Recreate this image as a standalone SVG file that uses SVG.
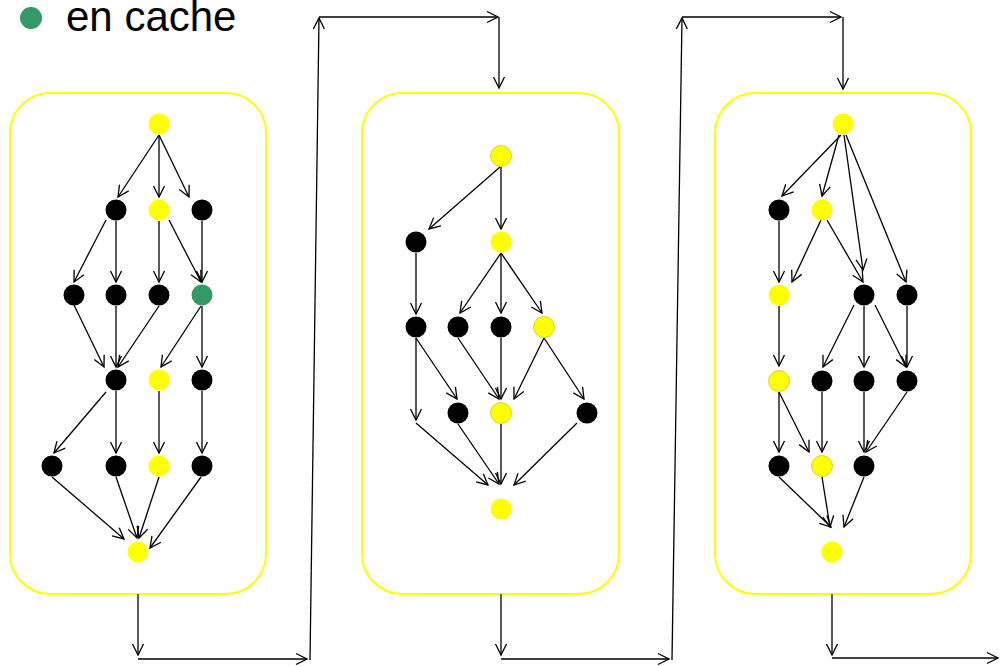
<svg xmlns="http://www.w3.org/2000/svg" width="1000" height="666" viewBox="0 0 1000 666">
<style>
.panel{fill:none;stroke:#ffff00;stroke-width:2}
.y{fill:#ffff00}
.yo{fill:#ffff00;stroke:#b8b800;stroke-width:0.6}
.b{fill:#000}
.g{fill:#359966}
.e{fill:none;stroke:#000;stroke-width:1.3;marker-end:url(#ah)}
.legend{font-family:"Liberation Sans",Arial,sans-serif;font-size:42px;fill:#000}
</style>
<defs>
<marker id="ah" markerUnits="userSpaceOnUse" viewBox="0 0 12 12" markerWidth="12" markerHeight="12" refX="11" refY="6" orient="auto" overflow="visible">
<path d="M0,0.5 L11,6 L0,11.5" fill="none" stroke="#000" stroke-width="1.3"/>
</marker>
</defs>
<rect width="1000" height="666" fill="#fff"/>
<g id="legend">
<circle class="g" cx="31" cy="18" r="11"/>
<text class="legend" x="66" y="31">en cache</text>
</g>
<g id="panels">
<rect id="panel1" class="panel" x="10" y="93" width="256" height="501" rx="40" ry="40"/>
<rect id="panel2" class="panel" x="362" y="93" width="257" height="501" rx="40" ry="40"/>
<rect id="panel3" class="panel" x="715" y="93" width="256" height="501" rx="40" ry="40"/>
</g>
<g id="connectors">
<line class="e" x1="159" y1="135" x2="118" y2="197"/>
<line class="e" x1="159" y1="135" x2="159" y2="197"/>
<line class="e" x1="159" y1="135" x2="189" y2="197"/>
<line class="e" x1="106" y1="220" x2="74" y2="282"/>
<line class="e" x1="116" y1="221" x2="116" y2="282"/>
<line class="e" x1="159" y1="221" x2="159" y2="282"/>
<line class="e" x1="169" y1="220" x2="201" y2="282"/>
<line class="e" x1="202" y1="221" x2="202" y2="282"/>
<line class="e" x1="74" y1="305" x2="104" y2="367"/>
<line class="e" x1="116" y1="306" x2="116" y2="367"/>
<line class="e" x1="159" y1="306" x2="118" y2="367"/>
<line class="e" x1="201" y1="306" x2="161" y2="367"/>
<line class="e" x1="202" y1="306" x2="202" y2="367"/>
<line class="e" x1="106" y1="392" x2="54" y2="453"/>
<line class="e" x1="116" y1="391" x2="116" y2="453"/>
<line class="e" x1="159" y1="391" x2="159" y2="453"/>
<line class="e" x1="202" y1="391" x2="202" y2="453"/>
<line class="e" x1="52" y1="477" x2="124" y2="539"/>
<line class="e" x1="116" y1="477" x2="137" y2="538"/>
<line class="e" x1="159" y1="477" x2="139" y2="538"/>
<line class="e" x1="201" y1="477" x2="150" y2="548"/>
<line class="e" x1="500" y1="167" x2="429" y2="229"/>
<line class="e" x1="501" y1="167" x2="501" y2="229"/>
<line class="e" x1="416" y1="253" x2="416" y2="314"/>
<line class="e" x1="501" y1="253" x2="460" y2="313"/>
<line class="e" x1="501" y1="253" x2="501" y2="313"/>
<line class="e" x1="501" y1="253" x2="542" y2="313"/>
<line class="e" x1="416" y1="338" x2="416" y2="420"/>
<line class="e" x1="416" y1="338" x2="457" y2="399"/>
<line class="e" x1="458" y1="338" x2="499" y2="399"/>
<line class="e" x1="501" y1="338" x2="501" y2="399"/>
<line class="e" x1="544" y1="338" x2="514" y2="399"/>
<line class="e" x1="544" y1="338" x2="584" y2="399"/>
<line class="e" x1="416" y1="423" x2="488" y2="485"/>
<line class="e" x1="458" y1="424" x2="499" y2="484"/>
<line class="e" x1="501" y1="424" x2="501" y2="484"/>
<line class="e" x1="577" y1="423" x2="514" y2="485"/>
<line class="e" x1="841" y1="135" x2="782" y2="196"/>
<line class="e" x1="839" y1="135" x2="822" y2="196"/>
<line class="e" x1="844" y1="135" x2="863" y2="270"/>
<line class="e" x1="846" y1="135" x2="906" y2="282"/>
<line class="e" x1="779" y1="221" x2="779" y2="282"/>
<line class="e" x1="821" y1="220" x2="792" y2="282"/>
<line class="e" x1="827" y1="220" x2="863" y2="282"/>
<line class="e" x1="779" y1="306" x2="779" y2="366"/>
<line class="e" x1="854" y1="305" x2="823" y2="367"/>
<line class="e" x1="864" y1="306" x2="864" y2="367"/>
<line class="e" x1="875" y1="305" x2="906" y2="367"/>
<line class="e" x1="907" y1="306" x2="907" y2="367"/>
<line class="e" x1="779" y1="392" x2="779" y2="452"/>
<line class="e" x1="779" y1="392" x2="809" y2="452"/>
<line class="e" x1="822" y1="392" x2="822" y2="452"/>
<line class="e" x1="864" y1="392" x2="864" y2="452"/>
<line class="e" x1="907" y1="392" x2="866" y2="452"/>
<line class="e" x1="779" y1="477" x2="831" y2="527"/>
<line class="e" x1="822" y1="477" x2="830" y2="527"/>
<line class="e" x1="864" y1="477" x2="844" y2="527"/>
<line class="e" x1="138" y1="594" x2="138" y2="655"/>
<line class="e" x1="138" y1="659" x2="307" y2="659"/>
<line class="e" x1="310" y1="660" x2="319" y2="18"/>
<line class="e" x1="319" y1="17" x2="498" y2="17"/>
<line class="e" x1="499" y1="17" x2="499" y2="88"/>
<line class="e" x1="501" y1="594" x2="501" y2="655"/>
<line class="e" x1="501" y1="659" x2="669" y2="659"/>
<line class="e" x1="672" y1="660" x2="682" y2="18"/>
<line class="e" x1="682" y1="17" x2="841" y2="17"/>
<line class="e" x1="843" y1="17" x2="843" y2="89"/>
<line class="e" x1="832" y1="594" x2="832" y2="655"/>
<line class="e" x1="832" y1="658" x2="998" y2="658"/>
</g>
<g id="nodes1">
<circle id="p1n0" class="y" cx="159" cy="124" r="10.5"/>
<circle id="p1n1" class="b" cx="116" cy="210" r="10.5"/>
<circle id="p1n2" class="y" cx="159" cy="210" r="10.5"/>
<circle id="p1n3" class="b" cx="202" cy="210" r="10.5"/>
<circle id="p1n4" class="b" cx="74" cy="295" r="10.5"/>
<circle id="p1n5" class="b" cx="116" cy="295" r="10.5"/>
<circle id="p1n6" class="b" cx="159" cy="295" r="10.5"/>
<circle id="p1n7" class="g" cx="202" cy="295" r="10.5"/>
<circle id="p1n8" class="b" cx="116" cy="380" r="10.5"/>
<circle id="p1n9" class="y" cx="159" cy="380" r="10.5"/>
<circle id="p1n10" class="b" cx="202" cy="380" r="10.5"/>
<circle id="p1n11" class="b" cx="52" cy="466" r="10.5"/>
<circle id="p1n12" class="b" cx="116" cy="466" r="10.5"/>
<circle id="p1n13" class="y" cx="159" cy="466" r="10.5"/>
<circle id="p1n14" class="b" cx="202" cy="466" r="10.5"/>
<circle id="p1n15" class="y" cx="138" cy="552" r="10.5"/>
</g>
<g id="nodes2">
<circle id="p2n0" class="yo" cx="501" cy="156" r="10.5"/>
<circle id="p2n1" class="b" cx="416" cy="242" r="10.5"/>
<circle id="p2n2" class="y" cx="501" cy="242" r="10.5"/>
<circle id="p2n3" class="b" cx="416" cy="327" r="10.5"/>
<circle id="p2n4" class="b" cx="458" cy="327" r="10.5"/>
<circle id="p2n5" class="b" cx="501" cy="327" r="10.5"/>
<circle id="p2n6" class="yo" cx="544" cy="327" r="10.5"/>
<circle id="p2n7" class="b" cx="458" cy="413" r="10.5"/>
<circle id="p2n8" class="yo" cx="501" cy="413" r="10.5"/>
<circle id="p2n9" class="b" cx="587" cy="413" r="10.5"/>
<circle id="p2n10" class="y" cx="501" cy="509" r="10.5"/>
</g>
<g id="nodes3">
<circle id="p3n0" class="y" cx="843" cy="124" r="10.5"/>
<circle id="p3n1" class="b" cx="779" cy="210" r="10.5"/>
<circle id="p3n2" class="y" cx="822" cy="210" r="10.5"/>
<circle id="p3n3" class="y" cx="779" cy="295" r="10.5"/>
<circle id="p3n4" class="b" cx="864" cy="295" r="10.5"/>
<circle id="p3n5" class="b" cx="907" cy="295" r="10.5"/>
<circle id="p3n6" class="yo" cx="779" cy="381" r="10.5"/>
<circle id="p3n7" class="b" cx="822" cy="381" r="10.5"/>
<circle id="p3n8" class="b" cx="864" cy="381" r="10.5"/>
<circle id="p3n9" class="b" cx="907" cy="381" r="10.5"/>
<circle id="p3n10" class="b" cx="779" cy="466" r="10.5"/>
<circle id="p3n11" class="yo" cx="822" cy="466" r="10.5"/>
<circle id="p3n12" class="b" cx="864" cy="466" r="10.5"/>
<circle id="p3n13" class="y" cx="832" cy="552" r="10.5"/>
</g>
</svg>
